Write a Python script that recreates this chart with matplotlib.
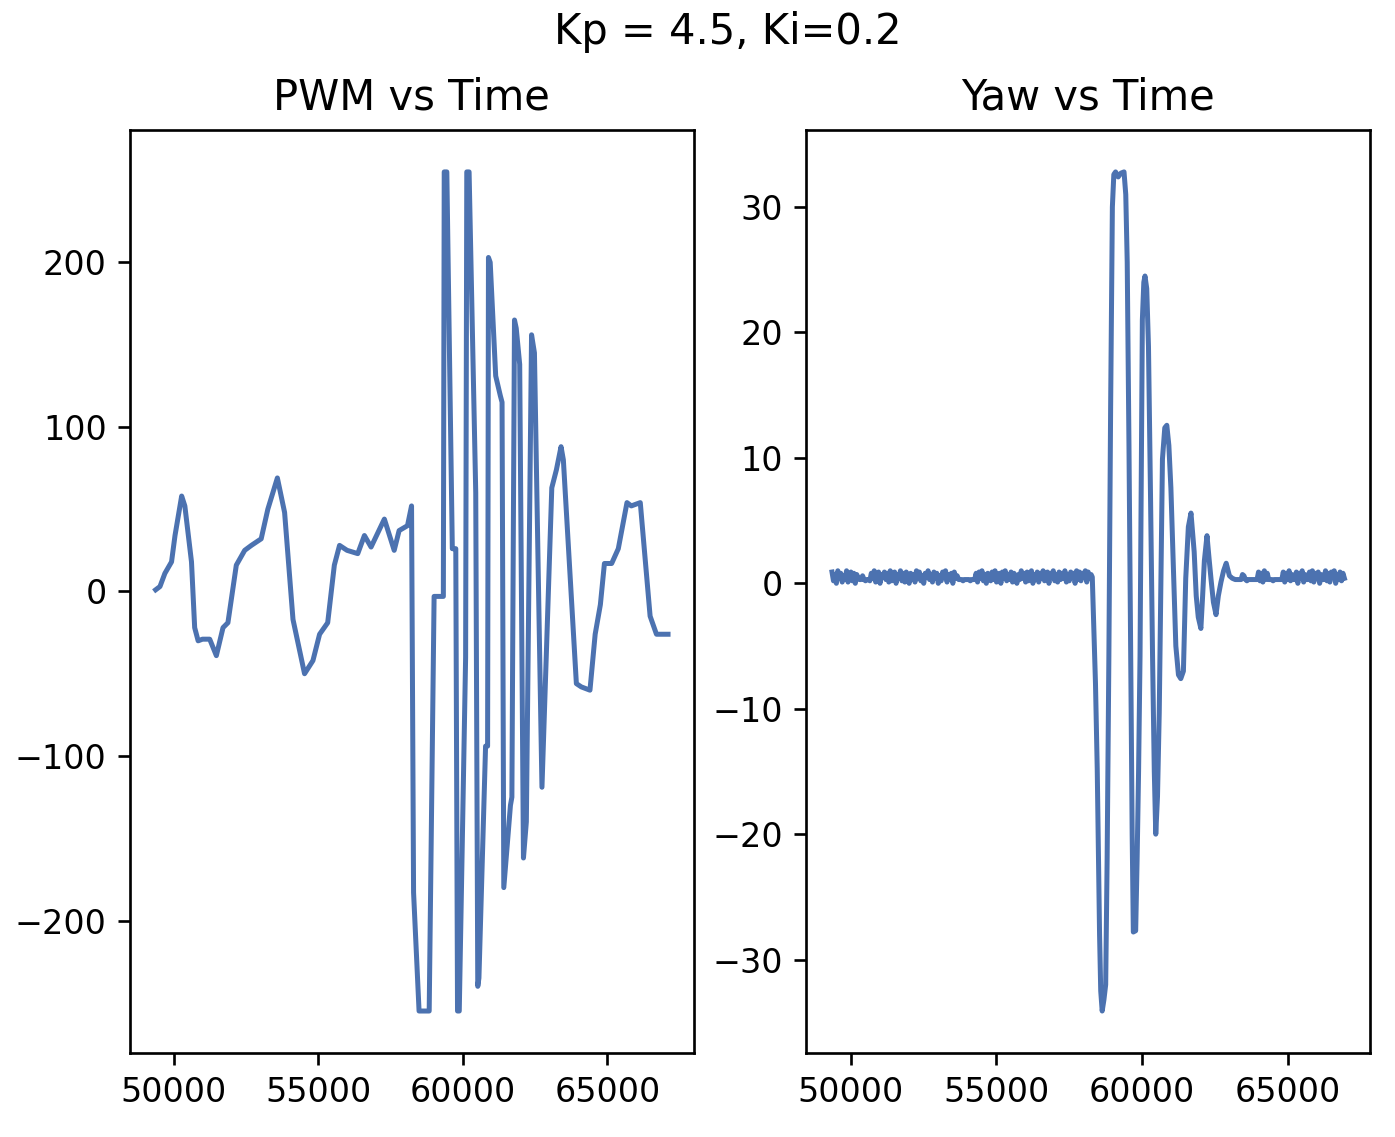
import numpy as np
import matplotlib
matplotlib.use("Agg")
import matplotlib.pyplot as plt

# PWM samples (time in ms, pwm value)
pwm_t = [49380, 49530, 49700, 49930, 50050, 50280, 50390, 50620, 50730, 50850,
         51000, 51250, 51480, 51710, 51880, 52170, 52460, 52690, 53030, 53260,
         53590, 53840, 54130, 54530, 54820, 55050, 55330, 55560, 55740, 56000,
         56370, 56600, 56830, 57290, 57630, 57800, 58090, 58230, 58300, 58490,
         58840, 59010, 59330, 59360, 59450, 59640, 59760, 59820, 59880, 60100,
         60140, 60220, 60450, 60520, 60560, 60790, 60860, 60890, 60950, 61140,
         61300, 61360, 61420, 61650, 61700, 61790, 61850, 61970, 62100, 62200,
         62380, 62480, 62740, 63080, 63240, 63400, 63480, 63930, 64100, 64400,
         64580, 64760, 64900, 65150, 65380, 65680, 65830, 66140, 66480, 66700,
         67100]
pwm_v = [1, 3, 11, 18, 34, 58, 52, 18, -22, -30,
         -29, -29, -39, -22, -19, 16, 25, 28, 32, 50,
         69, 48, -17, -50, -42, -26, -19, 16, 28, 25,
         23, 34, 27, 44, 25, 37, 40, 52, -183, -255,
         -255, -3, -3, 255, 255, 26, 26, -255, -255, -40,
         255, 255, 60, -240, -235, -94, -94, 203, 200, 131,
         119, 115, -180, -130, -125, 165, 160, 138, -162, -140,
         156, 145, -119, 63, 74, 88, 80, -56, -58, -60,
         -26, -8, 17, 17, 26, 54, 52, 54, -15, -26,
         -26]

# yaw: noisy hold before the disturbance, sampled every 50 ms
yaw_hold_start, yaw_hold_step = 49350, 50
yaw_hold = [0.9, 0.2, 0.7, 0.0, 1.0, 0.4, 0.8, 0.1, 0.6, 0.3,
            1.0, 0.1, 0.5, 0.9, 0.2, 0.8, 0.0, 0.7, 0.4,
            0.3, 0.3, 0.6, 0.3, 0.2, 0.3, 0.3,
            0.2, 0.8, 0.4, 1.0, 0.1, 0.6, 0.9, 0.0, 0.7, 0.5,
            0.9, 0.3, 0.8, 0.1, 1.0, 0.2, 0.6, 0.9, 0.0, 0.7,
            0.4, 1.0, 0.2, 0.8, 0.1, 0.9, 0.5, 0.0, 0.8, 0.3,
            0.7, 0.1, 1.0, 0.4, 0.9, 0.2, 0.6, 0.0, 0.8, 0.5,
            1.0, 0.3, 0.7, 0.1, 0.9, 0.4, 0.8, 0.0, 0.6, 0.2,
            0.9, 0.5, 1.0, 0.1, 0.7, 0.3, 0.8, 0.0, 0.9, 0.4,
            0.6,
            0.3, 0.3, 0.3, 0.2, 0.3, 0.3, 0.3, 0.3, 0.2, 0.3, 0.3, 0.3,
            0.8, 0.1, 0.9, 0.4, 1.0, 0.2, 0.7, 0.0, 0.8, 0.5,
            0.2, 0.9, 0.3, 1.0, 0.1, 0.6, 0.8, 0.0, 0.9, 0.4,
            1.0, 0.2, 0.7, 0.3, 0.9, 0.1, 0.8, 0.5, 0.0, 0.7,
            0.3, 1.0, 0.4, 0.8, 0.1, 0.9, 0.2, 0.6, 1.0, 0.0,
            0.7, 0.3, 0.9, 0.1, 0.8, 0.4, 1.0, 0.2, 0.6, 0.9,
            0.0, 0.8, 0.5, 1.0, 0.2, 0.7, 0.1, 0.9, 0.3, 0.8,
            0.4, 1.0, 0.1, 0.7, 0.2, 0.9, 0.5, 0.8, 0.0, 1.0,
            0.3, 0.9, 0.2, 0.8, 0.6, 1.0, 0.1, 0.9, 0.4, 0.7]

# yaw: oscillation after the disturbance
yaw_osc_t = [58290, 58400, 58460, 58540, 58580, 58630, 58690, 58750, 58800, 58860,
             58920, 58980, 59030, 59090, 59180, 59270, 59380, 59440, 59490, 59550,
             59610, 59660, 59700, 59780, 59830, 59880, 59930, 60010, 60060, 60100,
             60160, 60220, 60290, 60360, 60420, 60470, 60530, 60590, 60650, 60700,
             60780, 60850, 60920, 60990, 61080, 61160, 61250, 61330, 61420, 61500,
             61590, 61680, 61790, 61860, 61930, 62020, 62080, 62140, 62230, 62300,
             62370, 62450, 62540, 62620, 62710, 62800, 62890, 63000, 63100]
yaw_osc_v = [0.5, -8.0, -14.8, -28.0, -32.5, -34.1, -33.2, -32.0, -22.0, -5.8,
             14.0, 30.0, 32.6, 32.8, 32.4, 32.7, 32.8, 31.0, 25.6, 11.0,
             -5.8, -20.0, -27.8, -27.7, -22.0, -15.0, -5.8, 21.0, 24.0, 24.5,
             23.5, 18.9, 7.0, -5.8, -15.0, -20.0, -17.0, -10.3, 1.0, 9.9,
             12.4, 12.6, 11.0, 7.6, 1.0, -5.0, -7.3, -7.6, -7.0, 0.4,
             4.5, 5.6, 2.5, -1.0, -2.7, -3.6, -1.0, 1.8, 3.8, 2.0,
             0.3, -1.5, -2.5, -1.0, 0.1, 1.0, 1.6, 0.6, 0.4]

# yaw: settled tail, sampled every 50 ms
yaw_tail_start, yaw_tail_step = 63200, 50
yaw_tail = [0.3, 0.3, 0.3, 0.3, 0.3, 0.7, 0.6, 0.3, 0.2, 0.3,
            0.3, 0.3, 0.3, 0.3, 0.3, 0.3,
            0.9, 0.2, 0.8, 0.1, 1.0, 0.3, 0.8,
            0.3, 0.3, 0.3, 0.2, 0.3, 0.3, 0.3, 0.3, 0.3, 0.3,
            0.9, 0.1, 0.8, 0.3, 1.0, 0.2, 0.7, 0.3, 0.3, 0.9,
            0.0, 0.8, 0.4, 1.0, 0.1, 0.7, 0.3, 0.3, 0.9, 0.2,
            1.0, 0.1, 0.8, 0.4, 0.9, 0.0, 0.7, 0.3, 0.3, 1.0,
            0.2, 0.8, 0.1, 0.9, 0.5, 1.0, 0.0, 0.7, 0.3, 0.9,
            0.2, 0.8, 0.4]

hold_t = yaw_hold_start + yaw_hold_step * np.arange(len(yaw_hold))
tail_t = yaw_tail_start + yaw_tail_step * np.arange(len(yaw_tail))
yaw_t = np.concatenate([hold_t, yaw_osc_t, tail_t])
yaw_v = np.concatenate([yaw_hold, yaw_osc_v, yaw_tail])

line_color = '#4c72b0'

fig, (ax1, ax2) = plt.subplots(1, 2, figsize=(5.8125, 4.7375), dpi=240)
fig.subplots_adjust(left=0.0932, right=0.9821, bottom=0.0739, top=0.8857, wspace=0.2)

ax1.plot(pwm_t, pwm_v, color=line_color, lw=1.5)
ax1.set_title("PWM vs Time", fontsize=12.5)

ax2.plot(yaw_t, yaw_v, color=line_color, lw=1.5)
ax2.set_title("Yaw vs Time", fontsize=12.5)

for ax in (ax1, ax2):
    ax.set_xticks([50000, 55000, 60000, 65000])

fig.suptitle("Kp = 4.5, Ki=0.2", x=0.522, y=0.99, va='top', fontsize=12.5)

fig.savefig("out.png", dpi=240)
